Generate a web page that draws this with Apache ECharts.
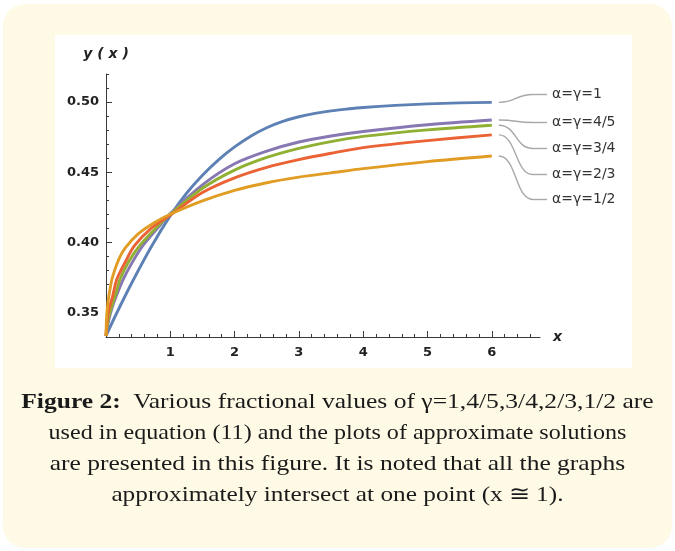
<!DOCTYPE html>
<html>
<head>
<meta charset="utf-8">
<script src="https://cdn.jsdelivr.net/npm/echarts@6/dist/echarts.min.js"></script>
<style>
  html, body { margin: 0; padding: 0; background: #ffffff; }
  #wrap { position: relative; width: 675px; height: 551px; overflow: hidden; }
  #box { position: absolute; left: 3px; top: 4px; width: 669px; height: 544px; background: #fffae6; border-radius: 22px; }
  #panel { position: absolute; left: 55px; top: 35px; width: 577px; height: 333px; background: #ffffff; }
  #chart { position: absolute; left: 0; top: 0; width: 675px; height: 551px; }
  #caption { position: absolute; left: 0; top: 385px; width: 675px; text-align: center;
             font-family: "Liberation Serif", serif; font-size: 22px; line-height: 31px; color: #1a1a1a; }
  #caption div { white-space: nowrap; transform-origin: 338px 0; }
</style>
</head>
<body>
<div id="wrap">
  <div id="box"></div>
  <div id="panel"></div>
  <div id="chart"></div>
  <div id="caption">
    <div style="transform: scaleX(1.162)"><b>Figure 2:</b>&nbsp; Various fractional values of γ=1,4/5,3/4,2/3,1/2 are</div>
    <div style="transform: scaleX(1.095)">used in equation (11) and the plots of approximate solutions</div>
    <div style="transform: scaleX(1.16)">are presented in this figure. It is noted that all the graphs</div>
    <div style="transform: scaleX(1.15)">approximately intersect at one point (x ≅ 1).</div>
  </div>
</div>
<script>
// ---- data ----
const seriesNames = ['α=γ=1', 'α=γ=4/5', 'α=γ=3/4', 'α=γ=2/3', 'α=γ=1/2'];

const xA1  = [0, 0.15, 0.4, 0.7, 1, 1.25, 1.5, 1.75, 2, 2.25, 2.5, 2.75, 3, 3.25, 3.5, 3.75, 4, 4.5, 5, 5.5, 6];
const yA1  = [0.3333, 0.348, 0.371, 0.3965, 0.419, 0.4348, 0.4478, 0.4588, 0.468, 0.4757, 0.4817, 0.4862, 0.4895, 0.4919, 0.4937, 0.495, 0.4961, 0.4976, 0.4987, 0.4994, 0.4998];

const xA45 = [0, 0.04, 0.1, 0.18, 0.27, 0.4, 0.57, 0.8, 1, 1.5, 2, 2.5, 3, 3.5, 4, 5, 6];
const yA45 = [0.3333, 0.344, 0.354, 0.364, 0.3738, 0.385, 0.3974, 0.410, 0.4205, 0.441, 0.456, 0.465, 0.4715, 0.4758, 0.479, 0.4838, 0.4872];

const xA34 = [0, 0.03, 0.08, 0.15, 0.22, 0.35, 0.52, 0.75, 1, 1.5, 2, 2.5, 3, 3.5, 4, 5, 6];
const yA34 = [0.3333, 0.344, 0.353, 0.363, 0.3738, 0.386, 0.3974, 0.409, 0.420, 0.4385, 0.4515, 0.4605, 0.467, 0.4718, 0.4755, 0.4802, 0.4835];

const xA23 = [0, 0.02, 0.05, 0.1, 0.17, 0.3, 0.44, 0.7, 1, 1.5, 2, 2.5, 3, 3.5, 4, 5, 6];
const yA23 = [0.3333, 0.345, 0.353, 0.361, 0.3738, 0.386, 0.3974, 0.410, 0.4195, 0.4355, 0.446, 0.4535, 0.459, 0.4635, 0.4675, 0.4725, 0.4766];

const xA12 = [0, 0.01, 0.03, 0.06, 0.1, 0.2, 0.3, 0.5, 0.75, 1, 1.5, 2, 2.5, 3, 3.5, 4, 5, 6];
const yA12 = [0.3333, 0.347, 0.357, 0.366, 0.375, 0.388, 0.396, 0.406, 0.414, 0.420, 0.4295, 0.437, 0.4425, 0.4465, 0.4495, 0.4525, 0.4575, 0.4615];

const xTickLabels = [1, 2, 3, 4, 5, 6];
const yTickLabels = [0.35, 0.40, 0.45, 0.50];
const xMinorTicks = [0.2,0.4,0.6,0.8,1.2,1.4,1.6,1.8,2.2,2.4,2.6,2.8,3.2,3.4,3.6,3.8,4.2,4.4,4.6,4.8,5.2,5.4,5.6,5.8,6.2,6.4,6.6];
const yMinorTicks = [0.34,0.36,0.37,0.38,0.39,0.41,0.42,0.43,0.44,0.46,0.47,0.48,0.49,0.51,0.52];

const colors = ['#5e81b5', '#8778b3', '#8fb032', '#eb6235', '#e19c24'];
const labelY = [94.5, 122.5, 148.5, 174.5, 199.5];

const xs = [xA1, xA45, xA34, xA23, xA12];
const ys = [yA1, yA45, yA34, yA23, yA12];

const X_MIN = 0, X_MAX = 6.75, Y_MIN = 0.3325, Y_MAX = 0.52;
const axisColor = '#3a3a3a';
const labelFont = { color: '#222', fontFamily: 'DejaVu Sans', fontWeight: 'bold', fontSize: 13 };

const chart = echarts.init(document.getElementById('chart'), null, { renderer: 'canvas' });

const series = xs.map((xArr, i) => ({
  name: seriesNames[i],
  type: 'line',
  xAxisIndex: 0,
  yAxisIndex: 0,
  data: xArr.map((x, j) => [x, ys[i][j]]),
  showSymbol: false,
  smooth: 0.3,
  lineStyle: { color: colors[i], width: 2.9 },
  itemStyle: { color: colors[i] },
  z: 3 + i
}));

chart.setOption({
  animation: false,
  backgroundColor: 'transparent',
  grid: { left: 106, top: 74, width: 434, height: 263, containLabel: false },
  xAxis: [
    {
      type: 'value', min: X_MIN, max: X_MAX, position: 'bottom',
      name: 'x', nameLocation: 'end', nameGap: 13,
      nameTextStyle: { color: '#222', fontFamily: 'DejaVu Sans', fontWeight: 'bold', fontStyle: 'italic', fontSize: 14, verticalAlign: 'middle' },
      axisLine: { show: true, lineStyle: { color: axisColor, width: 1 } },
      axisTick: { show: true, inside: true, length: 6, customValues: xTickLabels, lineStyle: { color: axisColor } },
      axisLabel: { show: true, customValues: xTickLabels, margin: 9, ...labelFont },
      splitLine: { show: false }
    },
    {
      type: 'value', min: X_MIN, max: X_MAX, position: 'bottom',
      axisLine: { show: false },
      axisTick: { show: true, inside: true, length: 3, customValues: xMinorTicks, lineStyle: { color: axisColor } },
      axisLabel: { show: false },
      splitLine: { show: false }
    }
  ],
  yAxis: [
    {
      type: 'value', min: Y_MIN, max: Y_MAX, position: 'left',
      name: 'y ( x )', nameLocation: 'end', nameGap: 13,
      nameTextStyle: { color: '#222', fontFamily: 'DejaVu Sans', fontWeight: 'bold', fontStyle: 'italic', fontSize: 14 },
      axisLine: { show: true, lineStyle: { color: axisColor, width: 1 } },
      axisTick: { show: true, inside: true, length: 6, customValues: yTickLabels, lineStyle: { color: axisColor } },
      axisLabel: { show: true, customValues: yTickLabels, margin: 7, formatter: v => v.toFixed(2), ...labelFont },
      splitLine: { show: false }
    },
    {
      type: 'value', min: Y_MIN, max: Y_MAX, position: 'left',
      axisLine: { show: false },
      axisTick: { show: true, inside: true, length: 3, customValues: yMinorTicks, lineStyle: { color: axisColor } },
      axisLabel: { show: false },
      splitLine: { show: false }
    }
  ],
  series: series
});

// callout labels with leader lines, anchored at each curve's last point
function drawCallouts() {
  const els = [];
  xs.forEach((xArr, i) => {
    const lastX = xArr[xArr.length - 1];
    const lastY = ys[i][ys[i].length - 1];
    const p = chart.convertToPixel({ xAxisIndex: 0, yAxisIndex: 0 }, [lastX, lastY]);
    const x0 = p[0] + 7, y0 = p[1];
    const x1 = 533, y1 = labelY[i], x2 = 547;
    els.push({
      type: 'bezierCurve',
      shape: { x1: x0, y1: y0, x2: x1, y2: y1, cpx1: x0 + 18, cpy1: y0, cpx2: x1 - 18, cpy2: y1 },
      style: { stroke: '#a8a8a8', lineWidth: 1.4, fill: null },
      z: 10
    });
    els.push({
      type: 'line',
      shape: { x1: x1, y1: y1, x2: x2, y2: y1 },
      style: { stroke: '#a8a8a8', lineWidth: 1.4 },
      z: 10
    });
    els.push({
      type: 'text',
      x: x2 + 5, y: y1,
      style: { text: seriesNames[i], fill: '#333', fontFamily: 'DejaVu Sans', fontSize: 14, verticalAlign: 'middle', align: 'left' },
      z: 10
    });
  });
  chart.setOption({ graphic: { elements: els } });
}
drawCallouts();
</script>
</body>
</html>
